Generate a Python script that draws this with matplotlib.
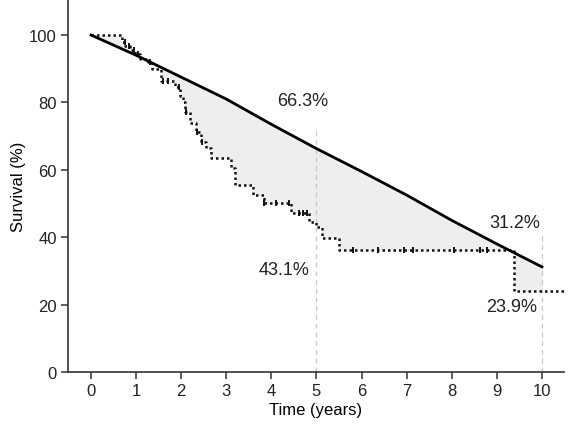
import numpy as np
import matplotlib
matplotlib.use("Agg")
import matplotlib.pyplot as plt

plt.rcParams['font.family'] = ['Liberation Sans', 'DejaVu Sans']

# expected (reference) survival curve
exp_t = [0, 1, 2, 3, 4, 5, 6, 7, 8, 9, 10]
exp_s = [100, 94, 87.5, 81, 73.5, 66.3, 59.5, 52.5, 45, 38, 31.2]

# observed Kaplan-Meier steps (time where the step starts, survival after it)
km_t = [0, 0.68, 0.76, 0.87, 0.98, 1.09, 1.27, 1.36, 1.55, 1.87, 1.98, 2.05,
        2.09, 2.2, 2.32, 2.43, 2.54, 2.65, 3.1, 3.2, 3.59, 3.83, 4.43, 4.83,
        5.0, 5.12, 5.5, 9.38]
km_s = [100, 97.9, 96.7, 95.5, 94.3, 92.8, 91.9, 89.9, 86.3, 84.5, 81.8, 80,
        77.3, 74, 71.3, 68.4, 66.6, 63.6, 60.6, 55.5, 52.5, 50.1, 47.2, 44.5,
        43.1, 39.8, 36.1, 23.9]
km_end = 10.55

# censored observations (times)
cens_t = [0.75, 0.85, 0.95, 1.05, 1.3, 1.6, 1.7, 1.95, 2.1, 2.35, 2.45,
          3.83, 4.1, 4.39, 4.61, 4.7, 4.79, 5.81, 6.37, 6.95, 7.15,
          8.06, 8.62, 8.78]

labels = [(4.7, 80.5, '66.3%'), (4.27, 30.5, '43.1%'),
          (9.4, 44.5, '31.2%'), (9.33, 19.3, '23.9%')]


def km_at(t):
    idx = np.searchsorted(km_t, t, side='right') - 1
    return np.asarray(km_s)[idx]


fig = plt.figure(figsize=(5.72, 4.27), dpi=100)
ax = fig.add_axes([0.119, 0.1265, 0.867, 0.8735])

# shaded gap between the two curves
grid = np.linspace(0, 10, 2001)
ax.fill_between(grid, np.interp(grid, exp_t, exp_s), km_at(grid),
                color='#eeeeee', lw=0, zorder=1)

# reference lines at 5 and 10 years
ax.plot([5, 5], [0, 72.5], color='#c8c8c8', ls=(0, (4, 3)), lw=0.9, zorder=2)
ax.plot([10, 10], [0, 41], color='#c8c8c8', ls=(0, (4, 3)), lw=0.9, zorder=2)

ax.plot(exp_t, exp_s, color='black', lw=2, zorder=4)
ax.step(list(km_t) + [km_end], list(km_s) + [km_s[-1]], where='post',
        color='#111111', lw=1.8, ls=(0, (1, 1.2)), zorder=3)
ax.plot(cens_t, km_at(np.array(cens_t)), ls='none', marker='|', ms=5,
        mew=1.4, color='#111111', zorder=3)

for x, y, s in labels:
    ax.text(x, y, s, ha='center', va='center', fontsize=13, color='#222222')

ax.set_xlim(-0.51, 10.49)
ax.set_ylim(0, 110.7)
ax.set_xticks(range(0, 11))
ax.set_yticks(range(0, 101, 20))
ax.set_xlabel('Time (years)', fontsize=12, labelpad=3)
ax.set_ylabel('Survival (%)', fontsize=12, labelpad=2)
for sp in ['top', 'right']:
    ax.spines[sp].set_visible(False)
for sp in ['left', 'bottom']:
    ax.spines[sp].set_color('#333333')
    ax.spines[sp].set_linewidth(1.2)
ax.tick_params(length=5, width=1.1, color='#333333', labelsize=12,
               labelcolor='#222222', pad=3)

fig.savefig('out.png', dpi=100)
